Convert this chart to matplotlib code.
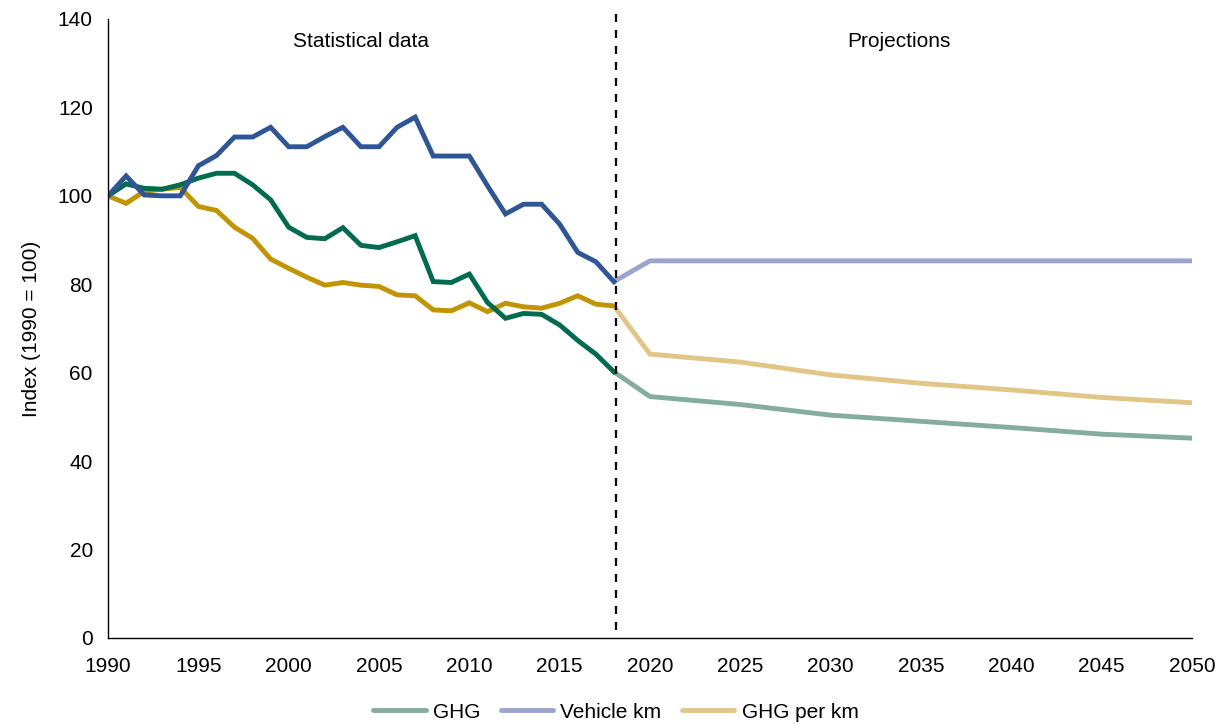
"""Transport GHG, vehicle km and GHG per km, indexed to 1990 = 100.

Statistical data 1990-2018 drawn in strong colours, projections to 2050
in pale tints, split by a dashed marker at 2018.
"""
import matplotlib
matplotlib.use("Agg")
import matplotlib.pyplot as plt

plt.rcParams["font.family"] = ["Liberation Sans", "DejaVu Sans"]

# --- data -----------------------------------------------------------------
hist_years = list(range(1990, 2019))
ghg_hist = [100.0, 102.7, 101.7, 101.5, 102.5, 104.0, 105.1, 105.1, 102.5, 99.1,
            92.9, 90.6, 90.3, 92.8, 88.8, 88.3, 89.6, 91.0, 80.6, 80.4,
            82.3, 75.9, 72.3, 73.4, 73.2, 70.8, 67.3, 64.2, 60.2]
vkm_hist = [100.0, 104.5, 100.2, 100.0, 100.0, 106.8, 109.1, 113.3, 113.3, 115.5,
            111.1, 111.1, 113.4, 115.5, 111.1, 111.1, 115.5, 117.8, 109.0, 109.0,
            109.0, 102.3, 95.9, 98.1, 98.1, 93.6, 87.2, 85.1, 80.6]
perkm_hist = [100.0, 98.3, 101.0, 101.5, 101.9, 97.6, 96.7, 92.9, 90.4, 85.7,
              83.6, 81.6, 79.8, 80.4, 79.8, 79.5, 77.6, 77.4, 74.2, 74.0,
              75.8, 73.8, 75.7, 74.9, 74.6, 75.7, 77.4, 75.5, 75.1]

proj_years = [2018, 2020, 2025, 2030, 2035, 2040, 2045, 2050]
ghg_proj = [60.2, 54.6, 52.8, 50.4, 49.0, 47.6, 46.1, 45.2]
vkm_proj = [80.6, 85.3, 85.3, 85.3, 85.3, 85.3, 85.3, 85.3]
perkm_proj = [75.1, 64.2, 62.4, 59.5, 57.6, 56.1, 54.4, 53.2]

SPLIT_YEAR = 2018
x_ticks = list(range(1990, 2051, 5))
y_ticks = list(range(0, 141, 20))

# --- style ----------------------------------------------------------------
GREEN, GREEN_PALE = "#006B4F", "#84AD9E"
BLUE, BLUE_PALE = "#2E5597", "#9AA4CF"
GOLD, GOLD_PALE = "#C29400", "#E2C688"
FS = 15
LW = 3.5

fig = plt.figure(figsize=(12.32, 7.24), dpi=100)
ax = fig.add_axes([0.0877, 0.1188, 0.8798, 0.855])

ax.plot(proj_years, ghg_proj, color=GREEN_PALE, lw=LW, solid_capstyle="round",
        label="GHG")
ax.plot(proj_years, vkm_proj, color=BLUE_PALE, lw=LW, solid_capstyle="round",
        label="Vehicle km")
ax.plot(proj_years, perkm_proj, color=GOLD_PALE, lw=LW, solid_capstyle="round",
        label="GHG per km")

ax.plot(hist_years, perkm_hist, color=GOLD, lw=LW, solid_joinstyle="miter")
ax.plot(hist_years, ghg_hist, color=GREEN, lw=LW, solid_joinstyle="miter")
ax.plot(hist_years, vkm_hist, color=BLUE, lw=LW, solid_joinstyle="miter")

ax.plot([SPLIT_YEAR + 0.1, SPLIT_YEAR + 0.1], [1.8, 141.8], color="black",
        lw=1.6, linestyle=(0, (3.6, 3.6)), clip_on=False, zorder=5)

ax.text(2004, 135, "Statistical data", ha="center", va="center", fontsize=FS)
ax.text(2033.8, 135, "Projections", ha="center", va="center", fontsize=FS)

ax.set_xlim(1990, 2050)
ax.set_ylim(0, 140)
ax.set_xticks(x_ticks)
ax.set_yticks(y_ticks)
ax.tick_params(length=0, labelsize=FS)
ax.tick_params(axis="x", pad=14)
ax.tick_params(axis="y", pad=11)
ax.set_ylabel("Index (1990 = 100)", fontsize=FS, labelpad=12)
for side in ("top", "right"):
    ax.spines[side].set_visible(False)
for side in ("left", "bottom"):
    ax.spines[side].set_linewidth(1.0)
    ax.spines[side].set_color("black")

fig.legend(loc="center", bbox_to_anchor=(0.5, 12 / 724), ncol=3, frameon=False,
           fontsize=FS, handlelength=2.5, handletextpad=0.35,
           columnspacing=1.0)

fig.savefig("out.png", dpi=100)
